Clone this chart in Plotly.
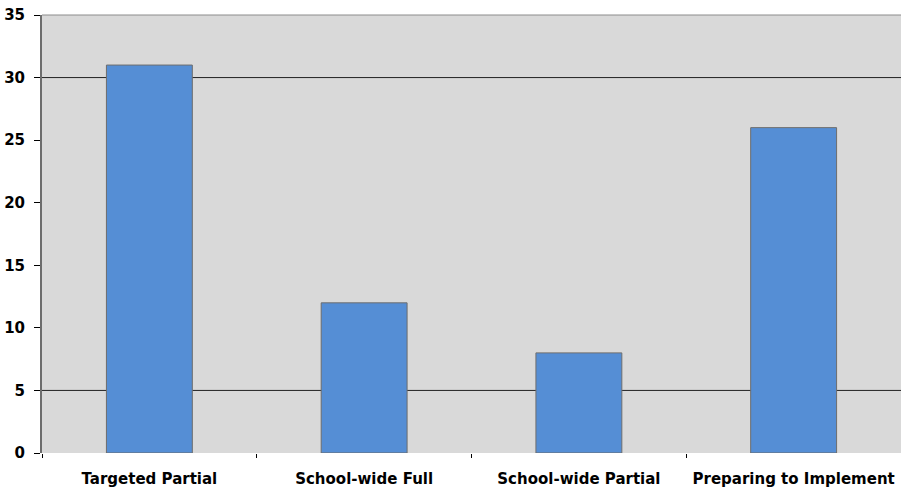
import plotly.graph_objects as go

categories = ["Targeted Partial", "School-wide Full", "School-wide Partial", "Preparing to Implement"]
values = [31, 12, 8, 26]
y_ticks = [0, 5, 10, 15, 20, 25, 30, 35]
grid_values = [5, 30]

FONT = "DejaVu Sans, Liberation Sans, Arial, sans-serif"

fig = go.Figure()
fig.add_trace(go.Bar(
    x=categories, y=values, width=0.4,
    marker=dict(color="#558ed5", line=dict(color="#6d6d6d", width=1)),
))

for g in grid_values:
    fig.add_hline(y=g, line=dict(color="#222222", width=1), layer="below")

# top border of plot area
fig.add_shape(type="line", xref="paper", yref="paper", x0=0, x1=1, y0=1, y1=1,
              line=dict(color="#8c8c8c", width=1))

fig.update_layout(
    width=901, height=491,
    margin=dict(l=42, r=0, t=15, b=38),
    paper_bgcolor="white",
    plot_bgcolor="#d9d9d9",
    showlegend=False,
    bargap=0.6,
    font=dict(family=FONT, size=15, color="black"),
)
fig.update_xaxes(
    showgrid=False, showline=False, zeroline=False,
    ticks="outside", tickson="boundaries", ticklen=4, tickcolor="black", tickwidth=1,
    ticklabelstandoff=15,
    tickfont=dict(family=FONT, size=15, color="black", weight="bold"),
)
fig.update_yaxes(
    range=[0, 35], tickvals=y_ticks,
    showgrid=False, zeroline=False,
    showline=True, linecolor="#6d6d6d", linewidth=2,
    ticks="outside", ticklen=6, tickcolor="black", tickwidth=1,
    ticklabelstandoff=6,
    tickfont=dict(family=FONT, size=15, color="black", weight="bold"),
)

fig.write_html("out.html")
